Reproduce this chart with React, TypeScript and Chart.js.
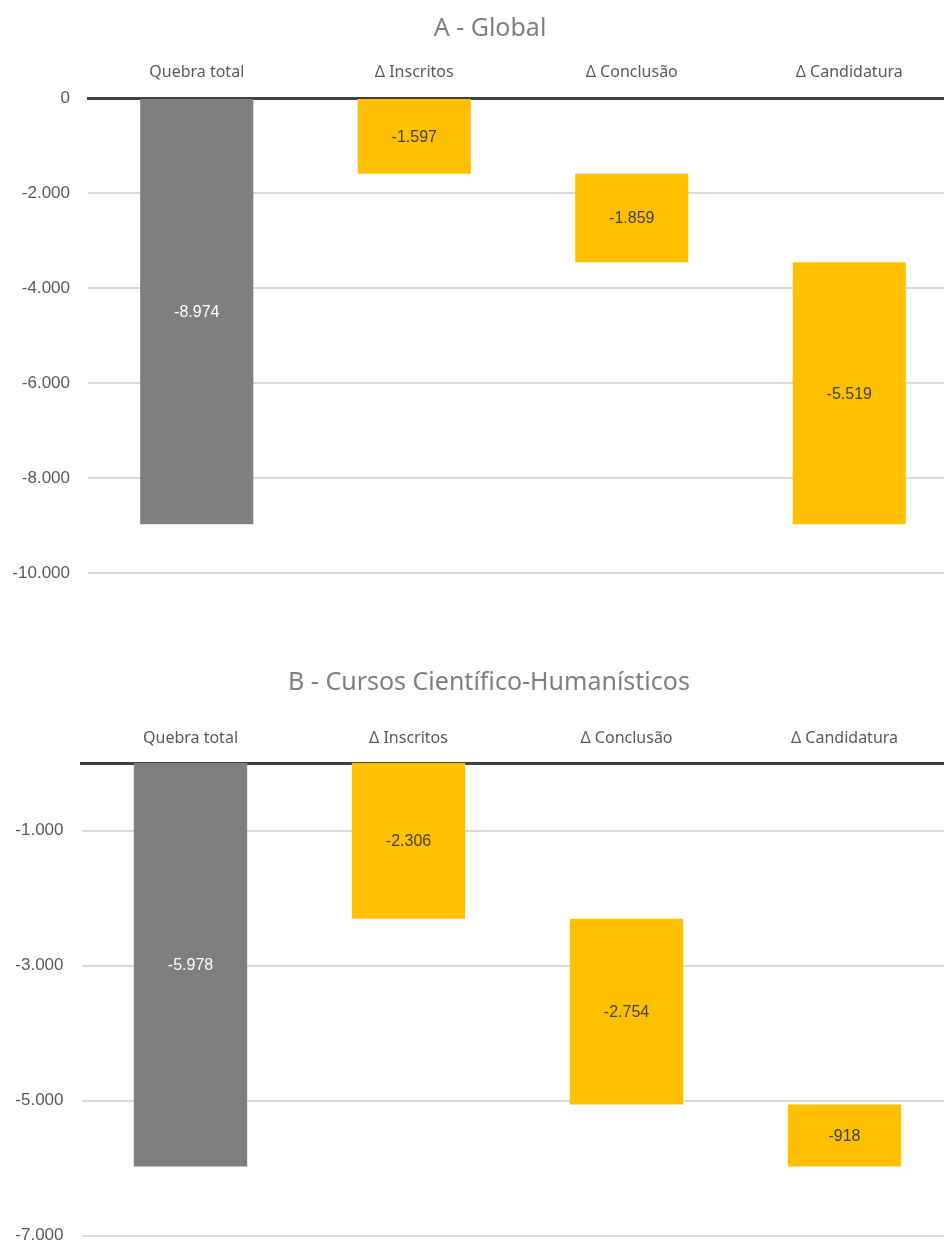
import React, { useEffect, useRef } from 'react';
import { Chart, registerables } from 'chart.js';

Chart.register(...registerables);

// ---------- data ----------
const categories = ['Quebra total', 'Δ Inscritos', 'Δ Conclusão', 'Δ Candidatura'];

const titleA = 'A - Global';
const totalA = -8974;
const deltasA = [-1597, -1859, -5519];
const yTicksA = [-10000, -8000, -6000, -4000, -2000, 0];

const titleB = 'B - Cursos Científico-Humanísticos';
const totalB = -5978;
const deltasB = [-2306, -2754, -918];
const yTicksB = [-7000, -5000, -3000, -1000];

// ---------- helpers ----------
const fmt = (v: number) => {
  const s = Math.abs(Math.round(v)).toString().replace(/\B(?=(\d{3})+(?!\d))/g, '.');
  return (v < 0 ? '-' : '') + s;
};

const buildRanges = (total: number, deltas: number[]) => {
  const out: number[][] = [[0, total]];
  let acc = 0;
  for (const d of deltas) {
    out.push([acc, acc + d]);
    acc += d;
  }
  return out;
};

const GRAY = '#7f7f7f';
const YELLOW = '#ffc000';

const valueLabels = {
  id: 'valueLabels',
  afterDatasetsDraw(chart: any, _args: any, opts: any) {
    const meta = chart.getDatasetMeta(0);
    const ctx = chart.ctx;
    ctx.save();
    ctx.font = '16px "Liberation Sans", Arial, sans-serif';
    ctx.textAlign = 'center';
    ctx.textBaseline = 'middle';
    meta.data.forEach((bar: any, i: number) => {
      const p = bar.getProps(['x', 'y', 'base'], true);
      ctx.fillStyle = opts.colors[i];
      ctx.fillText(fmt(opts.values[i]), p.x, (p.y + p.base) / 2 + 1);
    });
    ctx.restore();
  },
};

const chartTitle = {
  id: 'chartTitle',
  afterDraw(chart: any, _args: any, opts: any) {
    const ctx = chart.ctx;
    ctx.save();
    ctx.font = '25px "Noto Sans", sans-serif';
    ctx.fillStyle = '#7f7f7f';
    ctx.textAlign = 'center';
    ctx.textBaseline = 'middle';
    ctx.fillText(opts.text, opts.x, opts.y);
    ctx.restore();
  },
};

type PanelProps = {
  title: string;
  titleX: number;
  titleY: number;
  total: number;
  deltas: number[];
  yTicks: number[];
  yMin: number;
  top: number;
  height: number;
  padR: number;
  padB: number;
  xAxisHeight: number;
  xTickPad: number;
  yAxisWidth: number;
};

function Panel(p: PanelProps) {
  const ref = useRef<HTMLCanvasElement | null>(null);
  useEffect(() => {
    if (!ref.current) return;
    const values = [p.total, ...p.deltas];
    const chart = new Chart(ref.current, {
      type: 'bar',
      data: {
        labels: categories,
        datasets: [
          {
            data: buildRanges(p.total, p.deltas) as any,
            backgroundColor: [GRAY, YELLOW, YELLOW, YELLOW],
            borderWidth: 0,
            categoryPercentage: 1,
            barPercentage: 0.52,
          },
        ],
      },
      plugins: [valueLabels as any, chartTitle as any],
      options: {
        responsive: false,
        animation: false,
        devicePixelRatio: 1,
        layout: { padding: { left: 0, right: p.padR, top: 0, bottom: p.padB } },
        plugins: {
          legend: { display: false },
          tooltip: { enabled: false },
          title: { display: false },
          chartTitle: { text: p.title, x: p.titleX, y: p.titleY },
          valueLabels: {
            values,
            colors: ['#ffffff', '#404040', '#404040', '#404040'],
          },
        } as any,
        scales: {
          x: {
            position: 'top',
            grid: { display: false, drawTicks: false },
            border: { display: true, color: '#404040', width: 3 },
            ticks: {
              color: '#595959',
              font: { family: '"Noto Sans", sans-serif', size: 16 },
              padding: p.xTickPad,
            },
            afterFit: (s: any) => {
              s.height = p.xAxisHeight;
            },
          },
          y: {
            min: p.yMin,
            max: 0,
            afterBuildTicks: (s: any) => {
              s.ticks = p.yTicks.map((v) => ({ value: v }));
            },
            grid: { color: '#d9d9d9', lineWidth: 2, drawTicks: false },
            border: { display: false },
            ticks: {
              color: '#595959',
              font: { family: '"Liberation Sans", Arial, sans-serif', size: 17 },
              padding: 18,
              callback: (v: any) => fmt(Number(v)),
            },
            afterFit: (s: any) => {
              s.width = p.yAxisWidth;
            },
          },
        },
      },
    });
    return () => chart.destroy();
  }, []);
  return (
    <canvas
      ref={ref}
      width={960}
      height={p.height}
      style={{ position: 'absolute', left: 0, top: p.top, display: 'block', width: 960, height: p.height }}
    />
  );
}

export default function App() {
  return (
    <div
      style={{
        position: 'absolute',
        left: 0,
        top: 0,
        width: 944,
        height: 1243,
        overflow: 'hidden',
        background: '#ffffff',
      }}
    >
      <Panel
        title={titleA}
        titleX={490}
        titleY={29}
        total={totalA}
        deltas={deltasA}
        yTicks={yTicksA}
        yMin={-10000}
        top={0}
        height={620}
        padR={2}
        padB={47}
        xAxisHeight={98}
        xTickPad={16}
        yAxisWidth={88}
      />
      <Panel
        title={titleB}
        titleX={489}
        titleY={63}
        total={totalB}
        deltas={deltasB}
        yTicks={yTicksB}
        yMin={-7000}
        top={620}
        height={660}
        padR={6.5}
        padB={44.5}
        xAxisHeight={143}
        xTickPad={15}
        yAxisWidth={81.5}
      />
    </div>
  );
}
